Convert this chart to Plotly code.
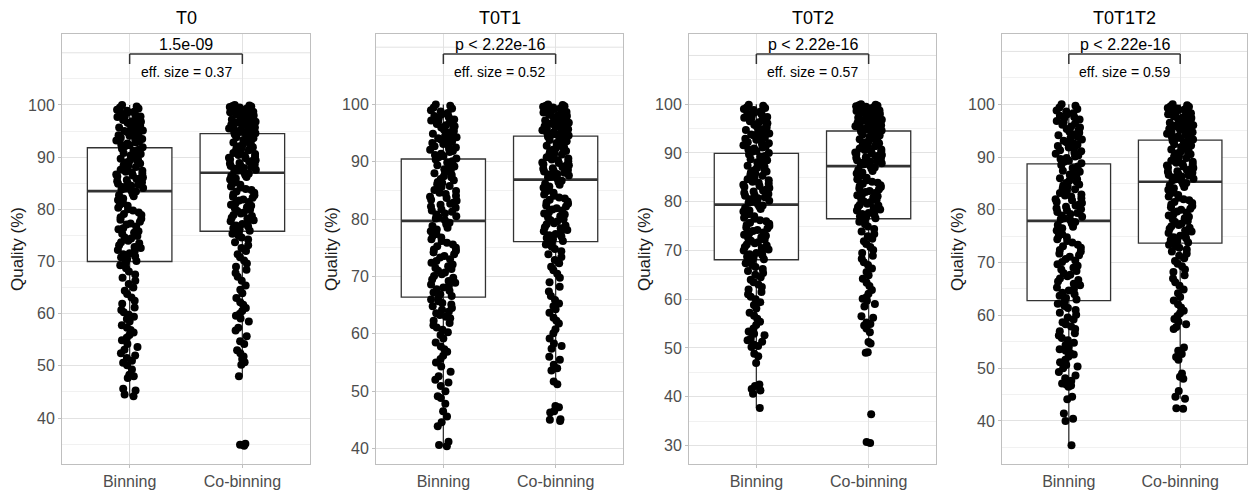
import plotly.graph_objects as go

panels = ["T0", "T0T1", "T0T2", "T0T1T2"]
groups = ["Binning", "Co-binning"]
p_labels = ["1.5e-09", "p < 2.22e-16", "p < 2.22e-16", "p < 2.22e-16"]
eff_sizes = ["0.37", "0.52", "0.57", "0.59"]

# box statistics per panel (T0, T0T1, T0T2, T0T1T2)
bin_q1 = [70.0, 66.4, 68.1, 62.8]
bin_med = [83.5, 79.7, 79.4, 77.9]
bin_q3 = [91.8, 90.5, 89.9, 88.7]
bin_lo = [44.2, 40.4, 37.7, 35.4]
bin_hi = [100.0, 100.0, 100.0, 100.0]
co_q1 = [75.8, 76.1, 76.5, 73.7]
co_med = [87.0, 86.9, 87.3, 85.3]
co_q3 = [94.5, 94.5, 94.5, 93.2]
co_lo = [48.0, 51.2, 50.9, 44.2]
co_hi = [100.0, 100.0, 100.0, 100.0]

# individual quality values (%)
t0_bin = [
    44.2, 44.5, 45.3, 45.6, 47.7, 48.0, 48.3, 49.3, 50.1, 50.6, 51.0, 51.5, 52.0, 52.4, 53.1,
    53.6, 54.2, 54.9, 55.4, 55.9, 56.4, 56.9, 57.3, 57.8, 58.5, 59.0, 59.4, 59.8, 60.3, 60.7,
    61.2, 61.9, 62.5, 63.1, 63.8, 64.4, 65.0, 65.7, 66.3, 66.9, 67.5, 68.1, 68.7, 69.3, 69.8,
    70.1, 70.5, 70.8, 71.0, 71.4, 71.6, 72.0, 72.2, 72.6, 72.8, 73.1, 73.5, 73.7, 74.0, 74.4,
    74.6, 74.9, 75.3, 75.5, 75.8, 76.2, 76.4, 76.7, 77.1, 77.3, 77.6, 78.0, 78.2, 78.5, 78.9,
    79.1, 79.4, 79.8, 80.0, 80.3, 80.7, 80.9, 81.2, 81.6, 81.8, 82.1, 82.5, 82.7, 83.0, 83.4,
    83.6, 83.8, 84.0, 84.1, 84.3, 84.5, 84.7, 84.9, 85.0, 85.2, 85.4, 85.6, 85.8, 85.9, 86.1,
    86.3, 86.5, 86.7, 86.8, 87.0, 87.2, 87.4, 87.6, 87.7, 87.9, 88.1, 88.3, 88.5, 88.6, 88.8,
    89.0, 89.2, 89.4, 89.5, 89.7, 89.9, 90.1, 90.3, 90.4, 90.6, 90.8, 91.0, 91.2, 91.4, 91.6,
    91.9, 92.1, 92.3, 92.4, 92.6, 92.8, 93.0, 93.2, 93.3, 93.5, 93.7, 93.9, 94.1, 94.2, 94.4,
    94.6, 94.8, 95.0, 95.1, 95.3, 95.5, 95.7, 95.9, 96.0, 96.2, 96.4, 96.6, 96.8, 96.9, 97.1,
    97.3, 97.5, 97.7, 97.8, 98.0, 98.2, 98.4, 98.6, 98.7, 98.9, 99.1, 99.3, 99.5, 99.7, 100.0,
]
t0_co = [
    34.7, 34.9, 35.1, 48.0, 50.2, 50.7, 51.3, 51.8, 52.4, 53.0, 54.2, 54.7, 55.7, 56.8, 57.3,
    58.5, 59.1, 59.6, 60.0, 60.5, 61.1, 61.7, 62.2, 63.0, 63.9, 64.6, 65.4, 66.3, 67.1, 67.8,
    68.4, 69.0, 69.6, 70.2, 70.8, 71.4, 72.0, 72.6, 73.1, 73.7, 74.2, 74.6, 75.0, 75.3, 75.6,
    75.9, 76.2, 76.4, 76.7, 76.9, 77.2, 77.4, 77.7, 77.9, 78.2, 78.4, 78.7, 78.9, 79.2, 79.4,
    79.7, 79.9, 80.2, 80.4, 80.7, 80.9, 81.2, 81.4, 81.7, 81.9, 82.2, 82.4, 82.7, 82.9, 83.2,
    83.4, 83.7, 83.9, 84.2, 84.4, 84.7, 84.9, 85.2, 85.4, 85.7, 85.9, 86.2, 86.4, 86.6, 86.8,
    87.1, 87.3, 87.4, 87.6, 87.8, 87.9, 88.1, 88.3, 88.4, 88.6, 88.8, 88.9, 89.1, 89.3, 89.4,
    89.6, 89.8, 89.9, 90.1, 90.3, 90.4, 90.6, 90.8, 90.9, 91.1, 91.3, 91.4, 91.6, 91.8, 91.9,
    92.1, 92.3, 92.4, 92.6, 92.8, 92.9, 93.1, 93.3, 93.4, 93.6, 93.8, 93.9, 94.1, 94.3, 94.4,
    94.6, 94.7, 94.8, 95.0, 95.1, 95.2, 95.3, 95.5, 95.6, 95.7, 95.8, 96.0, 96.1, 96.2, 96.3,
    96.5, 96.6, 96.7, 96.8, 97.0, 97.1, 97.2, 97.3, 97.5, 97.6, 97.7, 97.8, 98.0, 98.1, 98.2,
    98.3, 98.5, 98.6, 98.7, 98.8, 99.0, 99.1, 99.2, 99.3, 99.5, 99.6, 99.7, 99.8, 99.9, 100.0,
]
t0t1_bin = [
    40.4, 40.6, 41.2, 43.9, 44.6, 45.6, 46.5, 47.8, 48.8, 49.1, 50.0, 50.9, 51.5, 52.0, 52.6,
    53.4, 54.3, 55.0, 55.6, 56.2, 56.9, 57.3, 57.8, 58.5, 59.2, 59.8, 60.3, 60.7, 61.1, 61.5,
    61.9, 62.3, 62.7, 63.0, 63.3, 63.6, 63.9, 64.2, 64.5, 64.8, 65.1, 65.4, 65.7, 66.0, 66.2,
    66.6, 66.9, 67.2, 67.5, 67.8, 68.1, 68.3, 68.6, 68.9, 69.2, 69.5, 69.8, 70.1, 70.4, 70.7,
    71.0, 71.3, 71.5, 71.8, 72.1, 72.4, 72.7, 73.0, 73.3, 73.6, 73.9, 74.2, 74.5, 74.7, 75.0,
    75.3, 75.6, 75.9, 76.2, 76.5, 76.8, 77.1, 77.4, 77.7, 77.9, 78.2, 78.5, 78.8, 79.1, 79.4,
    79.8, 80.1, 80.3, 80.5, 80.8, 81.0, 81.3, 81.5, 81.7, 82.0, 82.2, 82.5, 82.7, 82.9, 83.2,
    83.4, 83.7, 83.9, 84.1, 84.4, 84.6, 84.9, 85.1, 85.3, 85.6, 85.8, 86.1, 86.3, 86.5, 86.8,
    87.0, 87.3, 87.5, 87.7, 88.0, 88.2, 88.5, 88.7, 88.9, 89.2, 89.4, 89.7, 89.9, 90.1, 90.4,
    90.6, 90.8, 91.0, 91.2, 91.4, 91.7, 91.9, 92.1, 92.3, 92.5, 92.7, 92.9, 93.1, 93.3, 93.5,
    93.7, 93.9, 94.1, 94.3, 94.5, 94.7, 94.9, 95.1, 95.4, 95.6, 95.8, 96.0, 96.2, 96.4, 96.6,
    96.8, 97.0, 97.2, 97.4, 97.6, 97.8, 98.0, 98.3, 98.5, 98.8, 99.0, 99.3, 99.5, 99.8, 100.0,
]
t0t1_co = [
    44.8, 45.0, 45.1, 46.3, 46.5, 47.2, 47.4, 51.2, 51.7, 53.6, 54.0, 54.6, 55.5, 56.0, 57.4,
    57.9, 58.3, 59.2, 60.1, 60.8, 61.8, 62.3, 62.8, 63.7, 64.3, 64.8, 65.3, 65.9, 66.6, 67.4,
    68.2, 69.0, 69.8, 70.5, 71.1, 71.7, 72.3, 72.9, 73.4, 73.9, 74.4, 74.8, 75.2, 75.6, 75.9,
    76.2, 76.5, 76.7, 77.0, 77.2, 77.4, 77.7, 77.9, 78.1, 78.4, 78.6, 78.9, 79.1, 79.3, 79.6,
    79.8, 80.0, 80.3, 80.5, 80.8, 81.0, 81.2, 81.5, 81.7, 81.9, 82.2, 82.4, 82.7, 82.9, 83.1,
    83.4, 83.6, 83.8, 84.1, 84.3, 84.6, 84.8, 85.0, 85.3, 85.5, 85.7, 86.0, 86.2, 86.5, 86.7,
    87.1, 87.3, 87.4, 87.6, 87.8, 87.9, 88.1, 88.3, 88.4, 88.6, 88.8, 88.9, 89.1, 89.3, 89.4,
    89.6, 89.8, 89.9, 90.1, 90.3, 90.4, 90.6, 90.8, 90.9, 91.1, 91.3, 91.4, 91.6, 91.8, 91.9,
    92.1, 92.3, 92.4, 92.6, 92.8, 92.9, 93.1, 93.3, 93.4, 93.6, 93.8, 93.9, 94.1, 94.3, 94.4,
    94.6, 94.7, 94.8, 95.0, 95.1, 95.2, 95.3, 95.5, 95.6, 95.7, 95.8, 96.0, 96.1, 96.2, 96.3,
    96.5, 96.6, 96.7, 96.8, 97.0, 97.1, 97.2, 97.3, 97.5, 97.6, 97.7, 97.8, 98.0, 98.1, 98.2,
    98.3, 98.5, 98.6, 98.7, 98.8, 99.0, 99.1, 99.2, 99.3, 99.5, 99.6, 99.7, 99.8, 99.9, 100.0,
]
t0t2_bin = [
    37.7, 40.6, 41.3, 41.6, 42.2, 42.5, 46.9, 48.3, 48.8, 50.2, 50.4, 50.7, 51.3, 51.6, 51.9,
    52.6, 52.9, 53.4, 54.0, 54.7, 55.4, 56.0, 56.6, 57.2, 58.1, 58.8, 59.4, 60.0, 60.5, 61.0,
    61.5, 62.0, 62.5, 63.0, 63.5, 64.0, 64.5, 65.0, 65.4, 65.8, 66.2, 66.6, 67.0, 67.4, 67.8,
    68.2, 68.5, 68.7, 69.0, 69.2, 69.5, 69.7, 70.0, 70.2, 70.5, 70.7, 71.0, 71.2, 71.5, 71.7,
    72.0, 72.2, 72.5, 72.7, 73.0, 73.2, 73.5, 73.7, 74.0, 74.2, 74.5, 74.7, 75.0, 75.2, 75.5,
    75.7, 76.0, 76.2, 76.5, 76.7, 77.0, 77.2, 77.5, 77.7, 78.0, 78.2, 78.5, 78.7, 79.0, 79.2,
    79.5, 79.8, 80.0, 80.2, 80.5, 80.7, 80.9, 81.2, 81.4, 81.6, 81.8, 82.1, 82.3, 82.5, 82.8,
    83.0, 83.2, 83.5, 83.7, 83.9, 84.1, 84.4, 84.6, 84.8, 85.1, 85.3, 85.5, 85.8, 86.0, 86.2,
    86.4, 86.7, 86.9, 87.1, 87.4, 87.6, 87.8, 88.1, 88.3, 88.5, 88.7, 89.0, 89.2, 89.4, 89.7,
    90.0, 90.2, 90.4, 90.7, 90.9, 91.1, 91.3, 91.6, 91.8, 92.0, 92.2, 92.5, 92.7, 92.9, 93.1,
    93.4, 93.6, 93.8, 94.0, 94.3, 94.5, 94.7, 94.9, 95.2, 95.4, 95.6, 95.8, 96.1, 96.3, 96.5,
    96.7, 97.0, 97.2, 97.4, 97.6, 97.9, 98.1, 98.3, 98.5, 98.8, 99.0, 99.2, 99.4, 99.7, 99.9,
]
t0t2_co = [
    30.5, 30.7, 36.4, 49.0, 49.1, 50.9, 51.2, 53.2, 54.0, 54.6, 54.9, 55.2, 56.2, 56.5, 58.5,
    59.0, 59.7, 60.1, 60.4, 61.1, 61.9, 62.7, 63.4, 64.2, 64.9, 65.6, 66.3, 67.0, 67.6, 68.3,
    68.9, 69.5, 70.1, 70.7, 71.3, 71.9, 72.4, 72.9, 73.4, 73.9, 74.4, 74.9, 75.4, 75.9, 76.3,
    76.6, 76.8, 77.0, 77.3, 77.5, 77.7, 78.0, 78.2, 78.4, 78.7, 78.9, 79.2, 79.4, 79.6, 79.9,
    80.1, 80.3, 80.6, 80.8, 81.1, 81.3, 81.5, 81.8, 82.0, 82.2, 82.5, 82.7, 83.0, 83.2, 83.4,
    83.7, 83.9, 84.1, 84.4, 84.6, 84.9, 85.1, 85.3, 85.6, 85.8, 86.0, 86.3, 86.5, 86.8, 87.0,
    87.4, 87.6, 87.7, 87.9, 88.0, 88.2, 88.3, 88.5, 88.7, 88.8, 89.0, 89.1, 89.3, 89.5, 89.6,
    89.8, 89.9, 90.1, 90.3, 90.4, 90.6, 90.7, 90.9, 91.1, 91.2, 91.4, 91.5, 91.7, 91.9, 92.0,
    92.2, 92.3, 92.5, 92.7, 92.8, 93.0, 93.1, 93.3, 93.5, 93.6, 93.8, 93.9, 94.1, 94.3, 94.4,
    94.6, 94.7, 94.8, 95.0, 95.1, 95.2, 95.3, 95.5, 95.6, 95.7, 95.8, 96.0, 96.1, 96.2, 96.3,
    96.5, 96.6, 96.7, 96.8, 97.0, 97.1, 97.2, 97.3, 97.5, 97.6, 97.7, 97.8, 98.0, 98.1, 98.2,
    98.3, 98.5, 98.6, 98.7, 98.8, 99.0, 99.1, 99.2, 99.3, 99.5, 99.6, 99.7, 99.8, 99.9, 100.0,
]
t0t1t2_bin = [
    35.4, 40.0, 40.4, 41.4, 44.1, 44.6, 46.5, 46.7, 46.9, 47.1, 47.6, 48.1, 48.6, 49.3, 50.0,
    50.3, 50.6, 51.1, 51.6, 52.2, 52.6, 52.9, 53.3, 53.6, 54.0, 54.4, 54.8, 55.3, 55.7, 56.2,
    56.6, 57.0, 57.4, 57.9, 58.3, 58.7, 59.2, 59.6, 60.1, 60.5, 61.0, 61.4, 61.8, 62.2, 62.6,
    63.0, 63.3, 63.7, 64.0, 64.3, 64.7, 65.0, 65.3, 65.7, 66.0, 66.4, 66.7, 67.0, 67.4, 67.7,
    68.0, 68.4, 68.7, 69.0, 69.4, 69.7, 70.1, 70.4, 70.7, 71.1, 71.4, 71.7, 72.1, 72.4, 72.8,
    73.1, 73.4, 73.8, 74.1, 74.4, 74.8, 75.1, 75.4, 75.8, 76.1, 76.5, 76.8, 77.1, 77.4, 77.7,
    78.0, 78.2, 78.4, 78.7, 78.9, 79.2, 79.4, 79.6, 79.9, 80.1, 80.3, 80.6, 80.8, 81.0, 81.3,
    81.5, 81.8, 82.0, 82.2, 82.5, 82.7, 82.9, 83.2, 83.4, 83.6, 83.9, 84.1, 84.4, 84.6, 84.8,
    85.1, 85.3, 85.5, 85.8, 86.0, 86.3, 86.5, 86.7, 87.0, 87.2, 87.4, 87.7, 87.9, 88.2, 88.5,
    88.8, 89.1, 89.3, 89.6, 89.8, 90.1, 90.3, 90.6, 90.8, 91.1, 91.3, 91.6, 91.8, 92.1, 92.3,
    92.6, 92.8, 93.1, 93.3, 93.6, 93.8, 94.1, 94.3, 94.6, 94.8, 95.1, 95.3, 95.6, 95.8, 96.1,
    96.3, 96.6, 96.8, 97.1, 97.3, 97.6, 97.8, 98.1, 98.3, 98.6, 98.8, 99.1, 99.4, 99.7, 100.0,
]
t0t1t2_co = [
    42.3, 42.4, 44.2, 44.6, 45.7, 48.0, 48.4, 49.0, 51.6, 52.1, 52.7, 53.3, 53.9, 57.4, 57.8,
    58.3, 58.8, 59.3, 59.9, 60.4, 60.9, 61.5, 62.1, 62.8, 63.5, 64.2, 64.9, 65.6, 66.3, 67.0,
    67.6, 68.2, 68.7, 69.3, 69.8, 70.3, 70.8, 71.3, 71.7, 72.1, 72.5, 72.8, 73.1, 73.4, 73.6,
    73.8, 74.1, 74.3, 74.6, 74.8, 75.1, 75.3, 75.6, 75.9, 76.1, 76.4, 76.6, 76.9, 77.1, 77.4,
    77.7, 77.9, 78.2, 78.4, 78.7, 78.9, 79.2, 79.5, 79.7, 80.0, 80.2, 80.5, 80.7, 81.0, 81.3,
    81.5, 81.8, 82.0, 82.3, 82.5, 82.8, 83.1, 83.3, 83.6, 83.8, 84.1, 84.3, 84.6, 84.9, 85.1,
    85.4, 85.6, 85.8, 85.9, 86.1, 86.3, 86.5, 86.6, 86.8, 87.0, 87.2, 87.3, 87.5, 87.7, 87.9,
    88.0, 88.2, 88.4, 88.6, 88.7, 88.9, 89.1, 89.3, 89.4, 89.6, 89.8, 90.0, 90.1, 90.3, 90.5,
    90.7, 90.8, 91.0, 91.2, 91.4, 91.5, 91.7, 91.9, 92.1, 92.2, 92.4, 92.6, 92.8, 92.9, 93.1,
    93.3, 93.5, 93.6, 93.8, 93.9, 94.1, 94.2, 94.4, 94.5, 94.7, 94.8, 95.0, 95.1, 95.3, 95.4,
    95.6, 95.7, 95.9, 96.0, 96.2, 96.3, 96.5, 96.6, 96.8, 96.9, 97.1, 97.2, 97.4, 97.5, 97.7,
    97.8, 98.0, 98.1, 98.3, 98.4, 98.6, 98.7, 98.9, 99.0, 99.2, 99.3, 99.5, 99.6, 99.8, 100.0,
]

bin_values = [t0_bin, t0t1_bin, t0t2_bin, t0t1t2_bin]
co_values = [t0_co, t0t1_co, t0t2_co, t0t1t2_co]

# ---------------- layout / style ----------------
W, H = 1249, 495
FONT = "Liberation Sans, Arial, sans-serif"
panel_px = [(62, 310), (376, 623), (689, 936), (1002, 1247)]
plot_top, plot_bot = 34, 464
y_ranges = [[31.2, 113.6], [37.3, 112.3], [26.2, 114.4], [31.85, 113.3]]
major_ticks = [[40, 50, 60, 70, 80, 90, 100],
               [40, 50, 60, 70, 80, 90, 100],
               [30, 40, 50, 60, 70, 80, 90, 100],
               [40, 50, 60, 70, 80, 90, 100]]
minor_ticks = [[35, 45, 55, 65, 75, 85, 95, 105],
               [45, 55, 65, 75, 85, 95, 105],
               [35, 45, 55, 65, 75, 85, 95, 105],
               [35, 45, 55, 65, 75, 85, 95, 105]]
TOP_GRID = 110  # unlabelled major grid line above the data

BOX_W = 0.75
BOX_LINE = "#333333"
GRID_MAJOR = "#e2e2e2"
GRID_MINOR = "#f1f1f1"
BORDER = "#bfbfbf"
TICK_TXT = "#4d4d4d"

fig = go.Figure()
layout = dict(
    width=W, height=H, autosize=False,
    margin=dict(l=0, r=0, t=0, b=0),
    paper_bgcolor="white", plot_bgcolor="white",
    showlegend=False, boxmode="overlay",
    font=dict(family=FONT, color="#000000"),
)
annotations = []
shapes = []

ydom = [1 - plot_bot / H, 1 - plot_top / H]

for i, pname in enumerate(panels):
    sfx = "" if i == 0 else str(i + 1)
    xa, ya = "x" + sfx, "y" + sfx
    stats = [
        (bin_q1[i], bin_med[i], bin_q3[i], bin_lo[i], bin_hi[i], bin_values[i]),
        (co_q1[i], co_med[i], co_q3[i], co_lo[i], co_hi[i], co_values[i]),
    ]
    for j, (q1, med, q3, lo, hi, vals) in enumerate(stats):
        pos = j + 1
        # box and whiskers
        fig.add_trace(go.Box(
            x=[pos], q1=[q1], median=[med], q3=[q3], lowerfence=[lo], upperfence=[hi],
            width=BOX_W, fillcolor="white", line=dict(color=BOX_LINE, width=1.3),
            whiskerwidth=0, boxpoints=False, hoverinfo="skip",
            xaxis=xa, yaxis=ya, showlegend=False,
        ))
        # thicker median bar
        fig.add_trace(go.Box(
            x=[pos], q1=[med], median=[med], q3=[med], lowerfence=[med], upperfence=[med],
            width=BOX_W, fillcolor="rgba(0,0,0,0)", line=dict(color=BOX_LINE, width=2.6),
            whiskerwidth=0, boxpoints=False, hoverinfo="skip",
            xaxis=xa, yaxis=ya, showlegend=False,
        ))
        # jittered points
        fig.add_trace(go.Box(
            x=[pos] * len(vals), y=vals, width=BOX_W,
            boxpoints="all", jitter=0.33, pointpos=0,
            fillcolor="rgba(0,0,0,0)", line=dict(color="rgba(0,0,0,0)", width=0),
            whiskerwidth=0,
            marker=dict(color="black", size=8, line=dict(width=0)),
            hoverinfo="skip", xaxis=xa, yaxis=ya, showlegend=False,
        ))

    x0, x1 = panel_px[i]
    layout["xaxis" + sfx] = dict(
        domain=[x0 / W, x1 / W], anchor=ya, range=[0.4, 2.6],
        tickmode="array", tickvals=[1, 2], ticktext=groups,
        showgrid=True, gridcolor=GRID_MAJOR, gridwidth=1, zeroline=False,
        showline=True, mirror=True, linecolor=BORDER, linewidth=1,
        ticks="outside", ticklen=3, tickcolor=BORDER,
        tickfont=dict(family=FONT, size=16, color=TICK_TXT),
        fixedrange=True,
    )
    layout["yaxis" + sfx] = dict(
        domain=ydom, anchor=xa, range=y_ranges[i],
        tickmode="array", tickvals=major_ticks[i],
        ticktext=[str(v) for v in major_ticks[i]],
        showgrid=True, gridcolor=GRID_MAJOR, gridwidth=1, zeroline=False,
        minor=dict(tickmode="array", tickvals=minor_ticks[i], showgrid=True,
                   gridcolor=GRID_MINOR, gridwidth=1, ticks=""),
        showline=True, mirror=True, linecolor=BORDER, linewidth=1,
        ticks="outside", ticklen=3, tickcolor=BORDER,
        tickfont=dict(family=FONT, size=16, color=TICK_TXT),
        title=dict(text="Quality (%)", font=dict(family=FONT, size=17, color="#1a1a1a"),
                   standoff=0),
        fixedrange=True,
    )
    # unlabelled top grid line
    shapes.append(dict(type="line", xref=xa + " domain", yref=ya, x0=0, x1=1,
                       y0=TOP_GRID, y1=TOP_GRID, layer="below",
                       line=dict(color=GRID_MAJOR, width=1)))
    # panel title
    annotations.append(dict(
        text=pname, xref="paper", yref="paper", x=(x0 + x1) / 2 / W, y=1 - 18 / H,
        xanchor="center", yanchor="middle", showarrow=False,
        font=dict(family=FONT, size=18, color="#000000"),
    ))
    # significance bracket
    yb = (plot_bot - 54) / (plot_bot - plot_top)
    yt = (plot_bot - 64) / (plot_bot - plot_top)
    for (xs, ys, xe, ye) in [(1, yb, 2, yb), (1, yb, 1, yt), (2, yb, 2, yt)]:
        shapes.append(dict(type="line", xref=xa, yref=ya + " domain",
                           x0=xs, y0=ys, x1=xe, y1=ye,
                           line=dict(color="#333333", width=1.5)))
    annotations.append(dict(
        text=p_labels[i], xref=xa, yref=ya + " domain", x=1.5,
        y=(plot_bot - 44) / (plot_bot - plot_top),
        xanchor="center", yanchor="middle", showarrow=False,
        font=dict(family=FONT, size=16, color="#000000"),
    ))
    annotations.append(dict(
        text="eff. size = " + eff_sizes[i], xref=xa, yref=ya + " domain", x=1.5,
        y=(plot_bot - 72) / (plot_bot - plot_top),
        xanchor="center", yanchor="middle", showarrow=False,
        font=dict(family=FONT, size=14, color="#000000"),
    ))

layout["annotations"] = annotations
layout["shapes"] = shapes
fig.update_layout(**layout)
fig.write_html("out.html")
